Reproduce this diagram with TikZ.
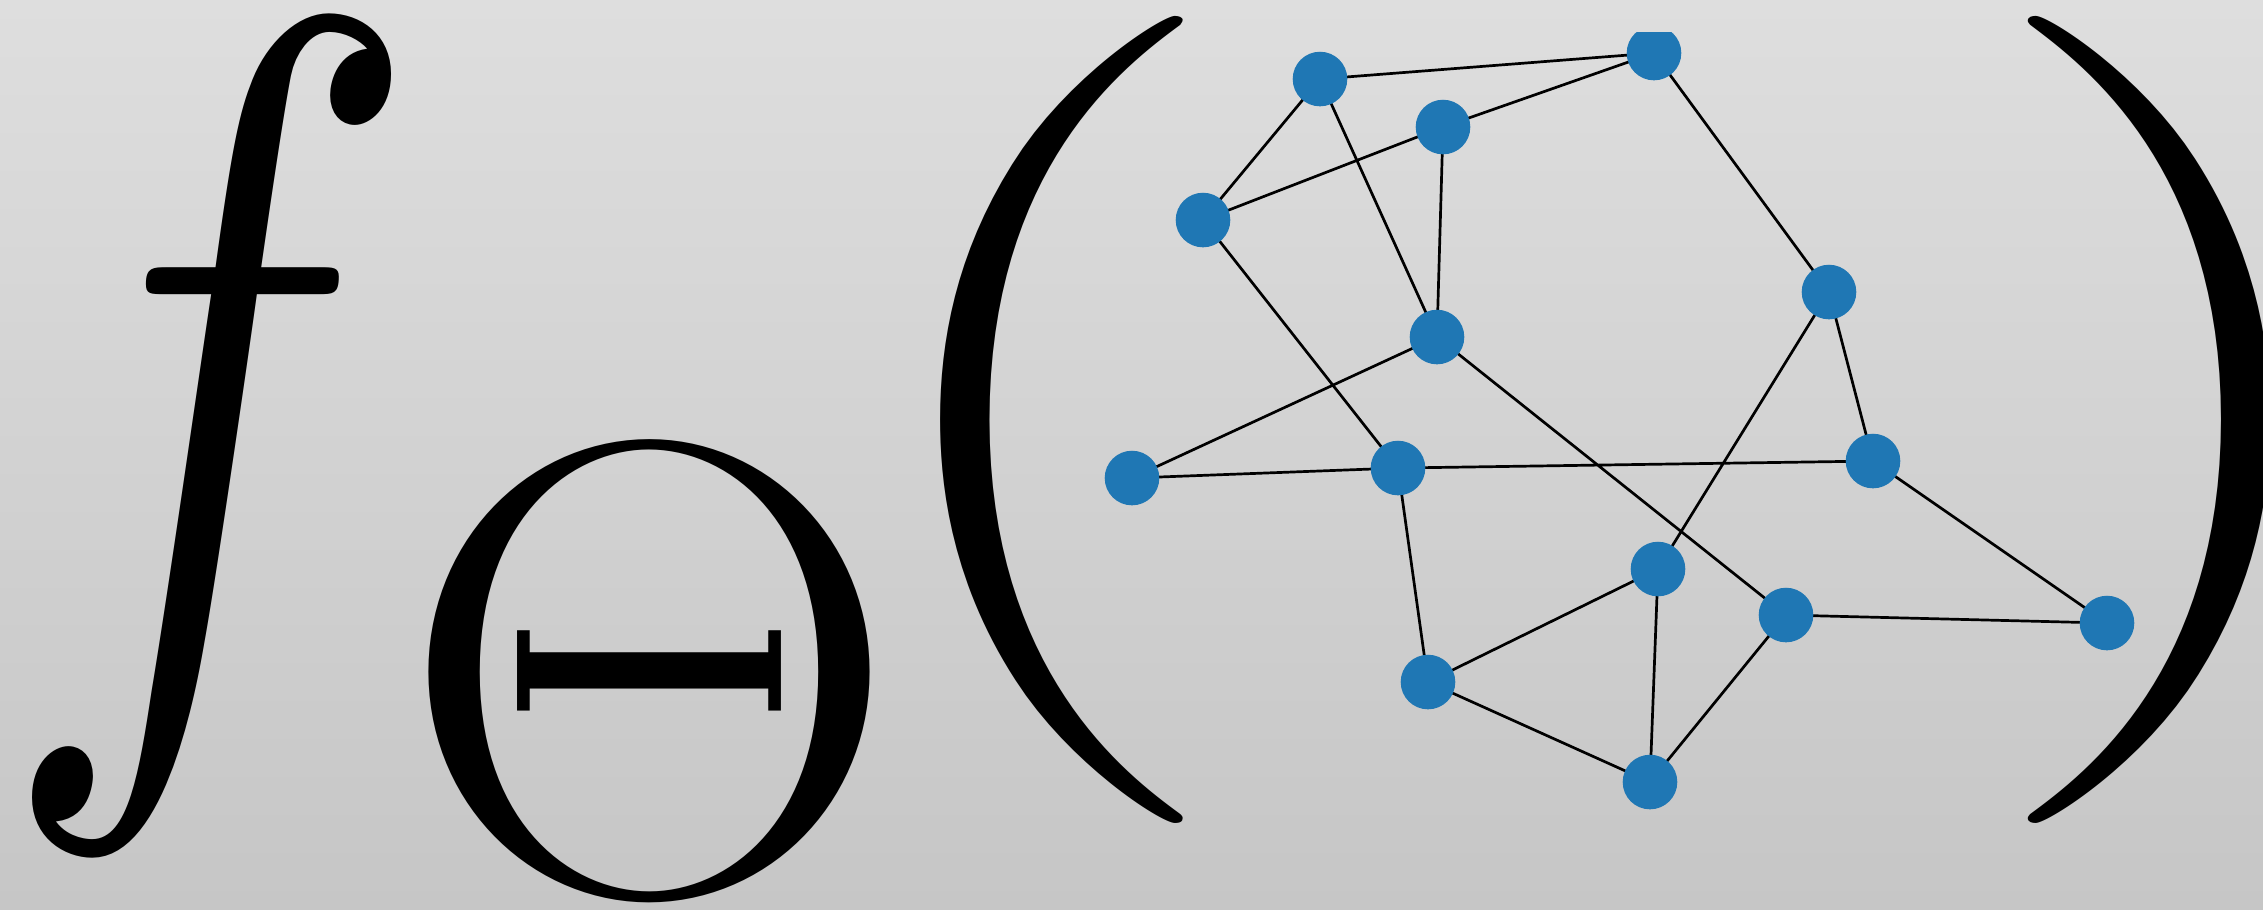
\RequirePackage{fix-cm}
\documentclass[tikz,border=0pt]{standalone}
\usepackage{graphicx}
\definecolor{nodeblue}{HTML}{1F77B4}
\definecolor{bgtop}{HTML}{DEDEDE}
\definecolor{bgbot}{HTML}{C6C6C6}
\pgfdeclarelayer{bg}
\pgfdeclarelayer{edges}
\pgfsetlayers{bg,edges,main}
\begin{document}
\begin{tikzpicture}[x=0.1pt,y=-0.1pt,
  vtx/.style={circle,fill=nodeblue,inner sep=0pt,minimum size=5.46pt},
  edge/.style={line width=0.27pt,black},
  glyph/.style={inner sep=0pt,outer sep=0pt,anchor=base west}]
\useasboundingbox (0,0) rectangle (2263,909);
\begin{pgfonlayer}{bg}
\shade[top color=bgtop,bottom color=bgbot] (0,0) rectangle (2263,909);
\end{pgfonlayer}
\clip (0,0) rectangle (2263,909);
% glyphs
\node[glyph] (f) at (-5,668) {\scalebox{0.78}[1]{\fontsize{93}{100}\selectfont$f$}};
\node[glyph] (theta) at (396,892) {\scalebox{1.086}[1]{\fontsize{64.8}{70}\selectfont$\Theta$}};
\node[glyph] (lpar) at (839,621) {\scalebox{1.39}[1]{\fontsize{80.8}{90}\selectfont$($}};
\node[glyph] (rpar) at (1975,621) {\scalebox{1.39}[1]{\fontsize{80.8}{90}\selectfont$)$}};
% graph vertices
\node[vtx] (n1) at (1320,79) {};
\begin{scope}
\clip (1600,32) rectangle (1710,110);
\node[vtx] (n2) at (1654,53) {};
\end{scope}
\node[vtx] (n3) at (1443,127) {};
\node[vtx] (n4) at (1203,220) {};
\node[vtx] (n5) at (1829,292) {};
\node[vtx] (n6) at (1437,337) {};
\node[vtx] (n7) at (1132,478) {};
\node[vtx] (n8) at (1398,468) {};
\node[vtx] (n9) at (1873,461) {};
\node[vtx] (n10) at (1658,569) {};
\node[vtx] (n11) at (1786,615) {};
\node[vtx] (n12) at (2107,623) {};
\node[vtx] (n13) at (1428,682) {};
\node[vtx] (n14) at (1650,782) {};
% edges
\begin{pgfonlayer}{edges}
\draw[edge] (n1.center)--(n2.center) (n1.center)--(n4.center) (n1.center)--(n6.center)
  (n2.center)--(n3.center) (n3.center)--(n4.center) (n3.center)--(n6.center)
  (n2.center)--(n5.center) (n4.center)--(n8.center) (n6.center)--(n7.center)
  (n6.center)--(n11.center) (n7.center)--(n8.center) (n8.center)--(n9.center)
  (n5.center)--(n9.center) (n5.center)--(n10.center) (n8.center)--(n13.center)
  (n9.center)--(n12.center) (n11.center)--(n12.center) (n10.center)--(n13.center)
  (n10.center)--(n14.center) (n13.center)--(n14.center) (n11.center)--(n14.center);
\end{pgfonlayer}
\end{tikzpicture}
\end{document}
